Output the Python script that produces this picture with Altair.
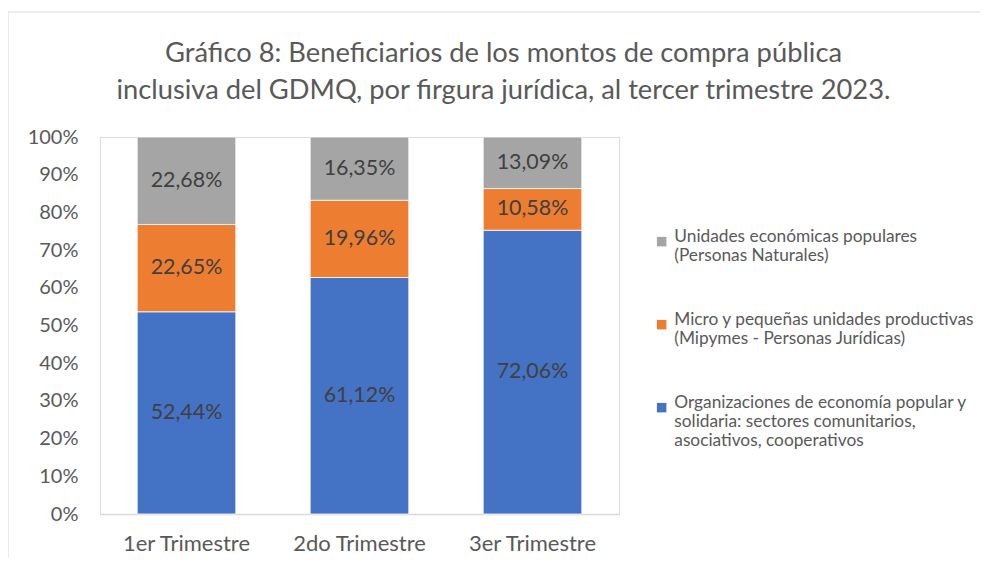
import altair as alt
import pandas as pd

quarters = ["1er Trimestre", "2do Trimestre", "3er Trimestre"]
series = [
    "Organizaciones de economía popular y\nsolidaria: sectores comunitarios,\nasociativos, cooperativos",
    "Micro y pequeñas unidades productivas\n(Mipymes - Personas Jurídicas)",
    "Unidades económicas populares\n(Personas Naturales)",
]
colors = ["#4472C4", "#ED7D31", "#A5A5A5"]
values_org = [52.44, 61.12, 72.06]
values_micro = [22.65, 19.96, 10.58]
values_uep = [22.68, 16.35, 13.09]
y_ticks = [0, 0.1, 0.2, 0.3, 0.4, 0.5, 0.6, 0.7, 0.8, 0.9, 1.0]

rows = []
for i, q in enumerate(quarters):
    for k, vals in enumerate([values_org, values_micro, values_uep]):
        rows.append({"quarter": q, "series": series[k], "value": vals[i], "ord": k})
df = pd.DataFrame(rows)

FONT = "Lato"
TXT = "#595959"

x_enc = alt.X(
    "quarter:N",
    sort=quarters,
    title=None,
    scale=alt.Scale(paddingInner=0.43, paddingOuter=0.215),
    axis=alt.Axis(labelAngle=0, labelFontSize=22, labelColor=TXT, labelFont=FONT,
                  ticks=False, tickSize=0, labelPadding=19, domainColor="#D9D9D9",
                  domainWidth=1.5, grid=False),
)

y_scale = alt.Scale(domain=[0, 1], nice=False)
y_axis = alt.Axis(format="%", values=y_ticks, grid=False, domain=False,
                  ticks=False, tickSize=0, labelPadding=22, labelFontSize=20,
                  labelColor=TXT, labelFont=FONT, labelOverlap=False)

bars = alt.Chart(df).mark_bar(stroke="white", strokeWidth=0.8).encode(
    x=x_enc,
    y=alt.Y("value:Q", stack="normalize", scale=y_scale, title=None, axis=y_axis),
    color=alt.Color("series:N",
                    scale=alt.Scale(domain=series[::-1], range=colors[::-1]),
                    legend=alt.Legend(title=None, orient="none", legendX=553, legendY=96,
                                      symbolType="square", symbolSize=90, symbolStrokeWidth=0,
                                      labelFontSize=17.3, labelColor=TXT, labelFont=FONT,
                                      labelLimit=400, rowPadding=45, labelOffset=4,
                                      labelBaseline="alphabetic",
                                      labelExpr="split(datum.label, '\\n')")),
    order=alt.Order("ord:Q", sort="ascending"),
)

labels = alt.Chart(df).transform_joinaggregate(
    total="sum(value)", groupby=["quarter"]
).transform_window(
    cum="sum(value)", sort=[alt.SortField("ord")], groupby=["quarter"],
    frame=[None, 0]
).transform_calculate(
    mid="(datum.cum - datum.value / 2) / datum.total",
    txt="replace(format(datum.value, '.2f'), '.', ',') + '%'",
).mark_text(fontSize=21.4, color="#404040", font=FONT).encode(
    x=alt.X("quarter:N", sort=quarters),
    y=alt.Y("mid:Q", scale=y_scale, title=None, axis=y_axis),
    text="txt:N",
)

border = alt.Chart(pd.DataFrame({"a": [0]})).mark_rect(
    fill=None, stroke="#D9D9D9", strokeWidth=1
).encode(
    x=alt.value(-92), x2=alt.value(1000), y=alt.value(-125), y2=alt.value(480)
)

chart = alt.layer(border, bars, labels).properties(
    width=519,
    height=377,
    padding={"left": 92, "top": 129, "right": 361, "bottom": 44},
    autosize=alt.AutoSizeParams(type="none"),
    title=alt.TitleParams(
        ["Gráfico 8: Beneficiarios de los montos de compra pública",
         "inclusiva del GDMQ, por firgura jurídica, al tercer trimestre 2023."],
        anchor="middle", frame="group", dx=144, fontSize=27.3, font=FONT,
        color=TXT, fontWeight="normal", lineHeight=37, offset=-93,
    ),
).configure_view(stroke=None).configure(background="white")

chart.save("out.html", embed_options={"renderer": "svg", "actions": False})
